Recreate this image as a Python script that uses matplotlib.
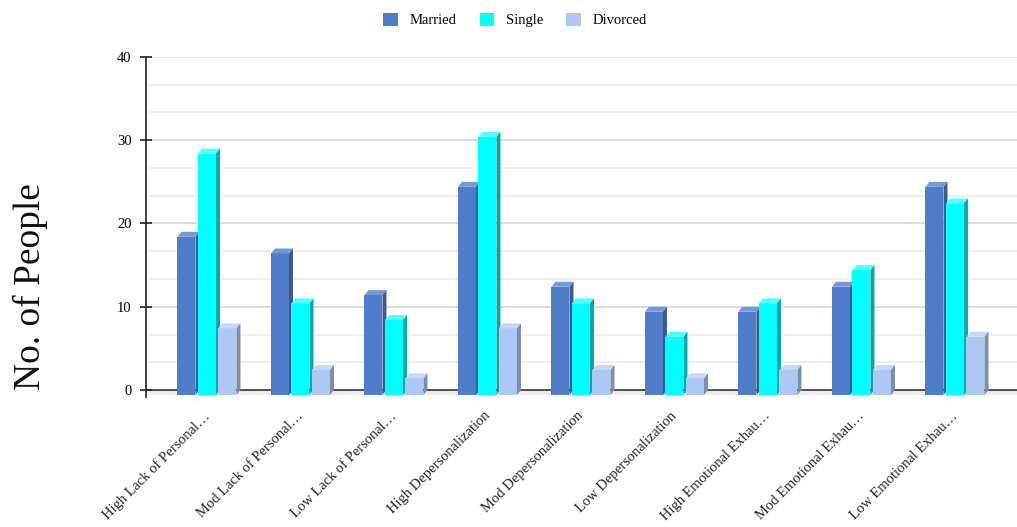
import matplotlib.pyplot as plt
import matplotlib.transforms as mtransforms
from matplotlib.patches import Polygon, Rectangle, Patch

plt.rcParams['font.family'] = ['Liberation Serif', 'DejaVu Serif']

# burnout levels by marital status
categories = [
    "High Lack of Personal…", "Mod Lack of Personal…", "Low Lack of Personal…",
    "High Depersonalization", "Mod Depersonalization", "Low Depersonalization",
    "High Emotional Exhau…", "Mod Emotional Exhau…", "Low Emotional Exhau…",
]
married = [19, 17, 12, 25, 13, 10, 10, 13, 25]
single = [29, 11, 9, 31, 11, 7, 11, 15, 23]
divorced = [8, 3, 2, 8, 3, 2, 3, 3, 7]
series_names = ["Married", "Single", "Divorced"]

# (front, top, side) shades for the fake 3d boxes
shades = [
    ("#4f7dc9", "#7399d8", "#3a5a92"),
    ("#00ffff", "#4dffff", "#00aaaa"),
    ("#adc8f5", "#c4d8f8", "#7c8eae"),
]

W, H = 1017, 527
fig = plt.figure(figsize=(W / 100, H / 100), dpi=100)

ymin, ymax = -0.9, 40
px_per_unit = (390 - 57) / 40
bottom_px = 390 - ymin * px_per_unit
ax = fig.add_axes([146 / W, 1 - bottom_px / H, (W - 146) / W, (bottom_px - 57) / H])

xmin, group_px = -0.652, 93.5
xmax = xmin + (W - 146) / group_px
ax.set_xlim(xmin, xmax)
ax.set_ylim(ymin, ymax)

dx = 4 / group_px
dy = 5 / px_per_unit
bw = 18 / group_px
step = 20.5 / group_px

# gridlines, three per 10 units
for i in range(1, 13):
    y = i * 10 / 3
    col = "#d6d6d6" if i % 3 == 0 else "#ebebeb"
    ax.axhline(y, xmin=0.005, color=col, lw=1.2, zorder=0)

# floor band under the bars
ax.add_patch(Polygon([(xmin, -dy), (xmax, -dy), (xmax, 0), (xmin + dx, 0)],
                     closed=True, fc="#ececec", ec="none", zorder=1))
ax.axhline(0, color="#333333", lw=1.2, zorder=1)

for s, vals in enumerate([married, single, divorced]):
    front, top, side = shades[s]
    for g, v in enumerate(vals):
        x0 = g + (s - 1) * step - bw / 2
        ax.add_patch(Rectangle((x0, -dy), bw, v, fc=front, ec="none", zorder=3))
        ax.add_patch(Polygon([(x0, v - dy), (x0 + bw, v - dy), (x0 + bw + dx, v), (x0 + dx, v)],
                             closed=True, fc=top, ec="none", zorder=3))
        ax.add_patch(Polygon([(x0 + bw, -dy), (x0 + bw + dx, 0), (x0 + bw + dx, v), (x0 + bw, v - dy)],
                             closed=True, fc=side, ec="none", zorder=3))

for sp in ["top", "right", "bottom"]:
    ax.spines[sp].set_visible(False)
ax.spines["left"].set_color("#222222")
ax.spines["left"].set_linewidth(1.2)

ax.set_yticks([0, 10, 20, 30, 40])
ax.tick_params(axis="y", direction="inout", length=9, width=1.2, color="#222222",
               labelsize=10.5, pad=6)

ax.set_xticks(range(len(categories)))
ax.set_xticklabels(categories, rotation=45, ha="right", va="top",
                   rotation_mode="anchor", fontsize=10.5, color="#222222")
ax.tick_params(axis="x", length=0, pad=10)
shift = mtransforms.ScaledTranslation(-4 / 100, 2 / 100, fig.dpi_scale_trans)
for lbl in ax.get_xticklabels():
    lbl.set_transform(lbl.get_transform() + shift)

fig.text(30 / W, 1 - 287 / H, "No. of People", rotation=90, fontsize=27,
         ha="center", va="center", color="#111111")

handles = [Patch(fc=shades[i][0], ec="none") for i in range(3)]
fig.legend(handles, series_names, loc="center", bbox_to_anchor=(515 / W, 1 - 20 / H),
           ncol=3, frameon=False, fontsize=10.5, handlelength=1.0, handleheight=1.0,
           columnspacing=1.6, handletextpad=0.8)

fig.savefig("out.png", dpi=100)
